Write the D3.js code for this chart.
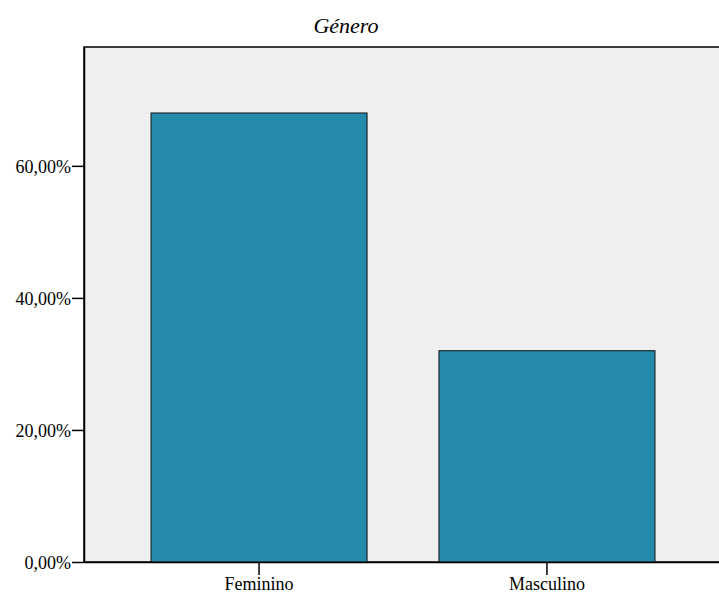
<!DOCTYPE html>
<html>
<head>
<meta charset="utf-8">
<script src="https://cdn.jsdelivr.net/npm/d3@7"></script>
<style>
  body { margin: 0; background: #fff; }
  text { font-family: "Liberation Serif", "Times New Roman", serif; }
</style>
</head>
<body>
<div id="chart"></div>
<script>
/* Bar chart: Género (percentages) */

const categories = ["Feminino", "Masculino"];
const percents = [68, 32];
const yTicks = [0, 20, 40, 60];
const title = "Género";

const width = 719,
      height = 597,
      margin = ({ top: 47, right: -3, bottom: 35, left: 84 });

let svg = d3.select("#chart")
    .append("svg")
    .attr("width", width)
    .attr("height", height);

let x = d3.scaleBand()
    .domain(categories)
    .range([margin.left, width - margin.right])
    .paddingInner(0.25)
    .paddingOuter(0.233);

let y = d3.scaleLinear()
    .domain([0, 78])
    .range([height - margin.bottom, margin.top]);

// plot background
svg.append("rect")
    .attr("x", margin.left)
    .attr("y", margin.top)
    .attr("width", width - margin.left + 5)
    .attr("height", y(0) - margin.top)
    .attr("fill", "#efefef")
    .attr("stroke", "#000")
    .attr("stroke-width", 1.5);

// bars
svg.selectAll(".bar")
    .data(percents)
    .join("rect")
    .attr("class", "bar")
    .attr("x", (d, i) => x(categories[i]))
    .attr("y", d => y(d))
    .attr("width", x.bandwidth())
    .attr("height", d => y(0) - y(d))
    .attr("fill", "#248bab")
    .attr("stroke", "#1a2a30")
    .attr("stroke-width", 1.2);

// axes
let yAxis = svg.append("g")
    .attr("transform", `translate(${margin.left},0)`)
    .call(d3.axisLeft(y)
        .tickValues(yTicks)
        .tickSize(12)
        .tickSizeOuter(0)
        .tickPadding(1)
        .tickFormat(d => d3.format(".2f")(d).replace(".", ",") + "%"));

let xAxis = svg.append("g")
    .attr("transform", `translate(0,${y(0)})`)
    .call(d3.axisBottom(x).tickSize(13).tickPadding(2).tickSizeOuter(0));

for (let g of [yAxis, xAxis]) {
    g.attr("font-family", "Liberation Serif").attr("font-size", 18);
    g.select(".domain").attr("stroke", "#000").attr("stroke-width", 1.5);
    g.selectAll(".tick line").attr("stroke", "#000").attr("stroke-width", 1.5);
    g.selectAll(".tick text")
        .attr("fill", "#000")
        .style("font-family", "'Liberation Serif', serif")
        .style("font-size", "18px");
}
yAxis.selectAll(".tick text").attr("dy", "0.35em");

// title
svg.append("text")
    .attr("x", 346)
    .attr("y", 33)
    .attr("text-anchor", "middle")
    .style("font-style", "italic")
    .style("font-size", "22px")
    .text(title);
</script>
</body>
</html>
